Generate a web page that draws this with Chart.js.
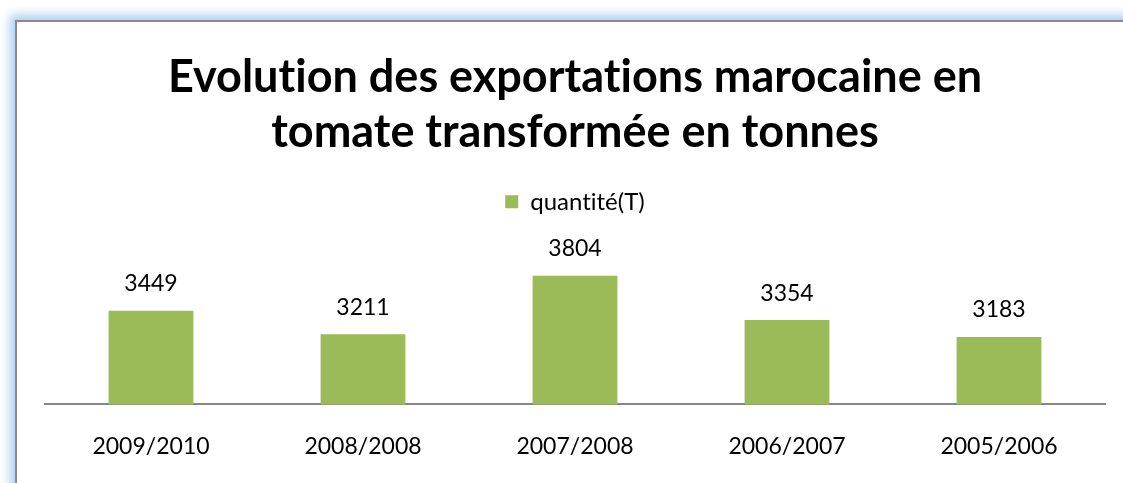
<!DOCTYPE html>
<html>
<head>
<meta charset="utf-8">
<script src="https://cdn.jsdelivr.net/npm/chart.js@4"></script>
<style>
html,body{margin:0;padding:0;background:#fff;overflow:hidden;width:1123px;height:483px}
#frame{position:absolute;left:15px;top:20px;width:1200px;height:600px;border:2px solid #8a8a8a;box-shadow:0 0 10px 5px #a9cdf3;background:#fff}
#wrap{position:absolute;left:17px;top:22px;width:1116px;height:458px}
</style>
</head>
<body>
<div id="frame"></div>
<div id="wrap"><canvas id="c"></canvas></div>
<script>
/* ===== DATA ===== */
const saisons=["2009/2010","2008/2008","2007/2008","2006/2007","2005/2006"];
const quantite=[3449,3211,3804,3354,3183];
const titre=["Evolution des exportations marocaine en","tomate transformée en tonnes"];
const serie="quantité(T)";

// no "ti" ligature (Lato) : zero-width non-joiner
const noLig=s=>s.replace(/t(?=[il])/g,"t\u200C");

/* ===== LABELS ===== */
const valeurs={
  id:"valeurs",
  afterDatasetsDraw(ch){
    const ctx=ch.ctx;
    ctx.save();
    ctx.font="23px Lato";
    ctx.fillStyle="#000";
    ctx.textAlign="center";
    ctx.textBaseline="middle";
    ch.getDatasetMeta(0).data.forEach((b,i)=>{
      ctx.fillText(quantite[i],b.x,b.y-27);
    });
    ctx.restore();
  }
};

new Chart(document.getElementById("c"),{
  type:"bar",
  data:{labels:saisons,datasets:[{label:noLig(serie),data:quantite,backgroundColor:"#9bbb59",categoryPercentage:0.4,barPercentage:1}]},
  options:{
    responsive:true,maintainAspectRatio:false,animation:false,
    layout:{padding:{left:28,right:28,bottom:0,top:0}},
    plugins:{
      title:{display:true,text:titre.map(noLig),color:"#000",font:{family:"Lato",size:45,weight:"bold",lineHeight:1.22},padding:{top:28,bottom:20}},
      legend:{display:true,labels:{color:"#000",font:{family:"Lato",size:24},boxWidth:13,boxHeight:13,padding:10}},
      tooltip:{enabled:false}
    },
    scales:{
      x:{grid:{display:false},border:{display:true,color:"#868686",width:2},
         ticks:{color:"#000",font:{family:"Lato",size:23},padding:20}},
      y:{display:false,min:2500,max:4330}
    }
  },
  plugins:[valeurs]
});
</script>
</body>
</html>
